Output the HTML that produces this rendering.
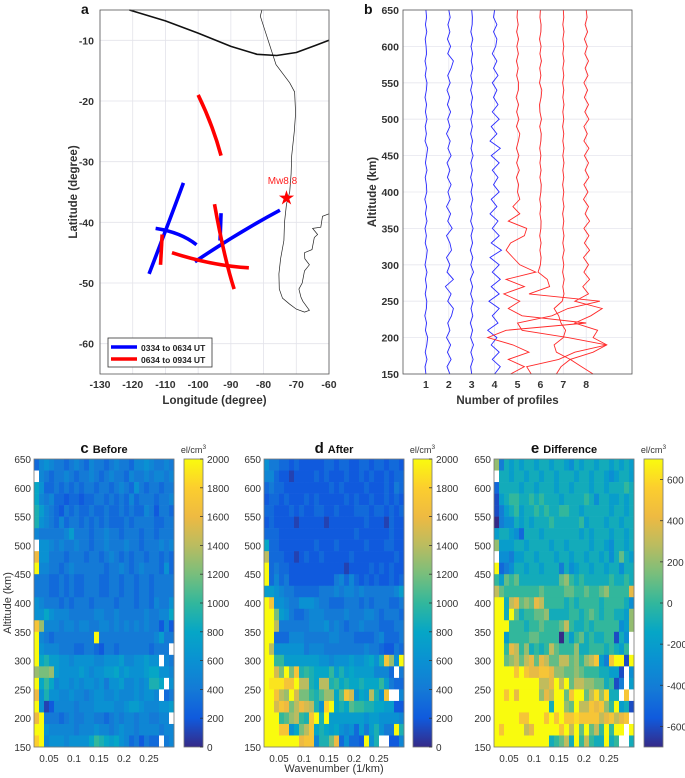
<!DOCTYPE html>
<html><head><meta charset="utf-8"><style>
html,body{margin:0;padding:0;background:#fff;}
svg{display:block;font-family:"Liberation Sans",Arial,sans-serif;}
</style></head><body>
<svg id="fig" width="685" height="778" viewBox="0 0 685 778">
<g id="pa"></g>
<g id="pb"></g>
<g id="pc"></g>
<g id="pd"></g>
<g id="pe"></g>
</svg>
<script>
// ---------- Panel a data ----------
const lonTicks=[-130,-120,-110,-100,-90,-80,-70,-60];
const latTicks=[-10,-20,-30,-40,-50,-60];
const blueTracks=[
 [[-115,-48.5],[-109,-40],[-104.5,-33.5]],
 [[-113,-41],[-106,-42],[-100.5,-43.7]],
 [[-93,-38.5],[-93.3,-43]],
 [[-101,-46.5],[-88,-42],[-75,-38]]
];
const redTracks=[
 [[-100,-19],[-96,-24],[-93,-29]],
 [[-111,-42],[-111.5,-47]],
 [[-95,-37],[-92,-45],[-89,-51]],
 [[-108,-45],[-96,-46.7],[-84.5,-47.5]]
];
const epicenter=[-73,-36];
const boundary=[[-121,-5],[-110,-6.8],[-100,-8.8],[-90,-11],[-82,-12.3],[-76,-12.5],[-70,-12],[-64,-10.8],[-60,-10]];
const coastW=[[-80.5,-5],[-81,-6],[-79.8,-8],[-78,-11],[-76.2,-14],[-72,-17],[-70.5,-18.5],[-70.2,-22],[-70.6,-25],[-71.4,-29],[-71.6,-32],[-72,-35],[-73,-37],[-73.6,-40],[-73.8,-43],[-74.8,-46],[-75.3,-48.5],[-75.2,-51],[-74.2,-52.5],[-72,-53.5],[-70,-54.3],[-67.5,-54.8],[-66,-54.5],[-68,-53],[-68.6,-52.3],[-69.2,-51],[-68.2,-50],[-67.5,-48],[-66,-47],[-67.4,-46],[-67.5,-45],[-65.2,-44.5],[-64.5,-42.5],[-63.5,-42],[-65,-41],[-62.5,-40.8],[-62,-39],[-60,-38.6]];
// ---------- Panel b data (deviation from profile number, 150→650 km) ----------
const profileNums=[1,2,3,4,5,6,7,8];
const prof1=[0,-.04,.05,-.03,.04,.08,-.02,.03,-.05,.02,.04,-.03,.03,-.02,.05,-.04,.02,.06,-.03,.02,-.04,.05,-.02,.03,-.05,.04,.02,-.03,.05,-.02,.03,.08,-.04,.02,-.03,.05,-.02,.03,-.04,.02,.05,-.03,.02,-.04,.03,.01,-.03,.04,-.02,.03,0];
const prof2=[.05,-.08,.1,-.06,.08,-.1,.05,-.05,.12,.2,-.05,.1,-.15,.2,-.08,.05,-.1,.12,.05,-.1,.15,-.05,.08,-.1,.06,-.04,.1,-.06,.05,-.08,.1,-.04,.06,-.1,.05,-.05,.08,-.06,.04,-.08,.06,-.05,.1,.2,-.05,.08,-.06,.05,-.04,.06,0];
const prof3=[0,-.05,.06,-.04,.08,-.05,.04,-.06,.05,-.03,.06,-.05,.04,-.06,.08,-.04,.05,-.06,.04,-.03,.06,-.05,.03,-.04,.05,-.03,.04,-.05,.03,-.04,.06,-.03,.04,-.05,.03,-.04,.05,-.03,.04,-.05,.03,-.04,.05,-.02,.04,-.03,.05,-.04,.02,.03,0];
const prof4=[0,.25,-.1,.2,-.15,.1,-.3,.15,-.1,.2,-.25,.2,-.15,.25,-.1,.2,-.2,.3,-.15,.2,-.1,.15,-.2,.1,-.15,.2,-.05,.15,-.1,.2,-.15,.25,-.2,.1,-.15,.2,-.1,.15,-.05,.1,-.1,.15,-.05,.1,-.1,.05,.1,-.05,.1,-.05,0];
const prof5=[-.3,.3,-.4,.5,-.2,-1.3,-.5,3.0,.2,-.4,.1,-.6,.3,-.5,.8,.1,-.2,-.5,-.3,.3,.4,-.4,.1,-.2,.1,0,.05,-.05,.08,-.04,.06,-.05,.04,.1,-.05,.06,-.04,.05,-.06,.04,.05,-.04,.03,-.05,.04,-.03,.05,-.04,.03,-.02,0];
const prof6=[-.4,-.6,.8,1.5,2.9,1.2,-.8,-1.0,.5,1.2,2.6,-.5,.4,.3,-.1,0,.03,-.02,.03,-.03,.02,.03,-.02,.02,-.03,.02,.04,-.02,.03,-.02,.02,-.03,.02,.04,-.03,.05,-.02,-.04,.03,.06,-.04,.02,-.03,.05,-.02,.03,-.04,.02,.03,-.02,0];
const prof7=[-.3,-.1,.3,-.3,-.4,0,.1,-.1,-.2,-.4,-.05,.03,-.02,.04,-.03,.02,-.03,.04,-.02,.03,-.02,.02,-.03,.03,-.02,.02,-.03,.02,-.02,.03,-.02,.03,-.02,.02,-.03,.02,-.02,.03,-.02,.02,-.03,.02,-.02,.03,-.02,.02,-.02,.03,-.02,.02,0];
const prof8=[.3,-.2,-.7,.3,.9,.3,.5,-.5,.2,.7,-.5,.1,-.15,.15,-.1,.1,-.12,.15,-.08,.12,-.1,.15,-.05,.1,-.12,.08,-.1,.12,-.05,.1,-.08,.12,-.1,.05,-.1,.12,-.06,.1,-.08,.06,-.1,.08,-.05,.1,-.06,.05,-.08,.06,-.05,.04,0];
const altTicks=[150,200,250,300,350,400,450,500,550,600,650];
// ---------- Heatmap data (hundreds of el/cm3, rows 650→150 km) ----------
const wavenumTicks=[0.05,0.1,0.15,0.2,0.25];
const beforeRows=[
[3,5,6,5,4,4,3,4,5,4,3,5,4,4,3,4,5,4,4,3,5,5,6,5,4,4,5,4],
[null,5,4,3,4,4,5,4,3,4,4,5,4,3,4,5,4,4,3,5,4,4,5,4,5,5,4,5],
[8,6,3,3,4,3,4,3,4,3,4,4,3,4,4,3,4,5,4,3,6,4,3,4,4,3,4,4],
[8,5,4,5,3,3,2,3,3,2,3,3,4,4,3,4,3,4,3,5,3,4,4,4,3,4,4,5],
[9,7,5,4,3,2,4,3,4,3,3,4,3,3,4,3,3,4,3,4,3,3,5,4,2,4,4,3],
[9,6,5,4,3,5,3,4,4,3,4,3,4,3,4,3,3,3,4,3,4,4,4,4,3,3,4,4],
[5,4,4,4,4,4,5,7,4,4,4,3,4,4,5,4,4,3,4,4,4,3,4,4,3,4,4,4],
[null,6,6,5,4,5,4,4,5,4,4,3,4,4,5,4,4,4,5,4,4,3,4,4,4,5,4,5],
[16,6,6,4,4,4,3,4,4,4,3,4,4,3,4,5,4,3,4,3,4,4,3,4,4,3,4,3],
[20,5,5,4,4,3,4,5,4,4,4,4,4,4,3,4,4,5,4,3,4,5,4,4,4,3,6,3],
[4,4,4,3,3,4,3,4,3,3,4,4,4,3,3,4,4,3,4,4,3,4,4,3,4,4,4,4],
[4,4,4,3,3,4,3,4,3,3,4,4,4,3,3,4,4,3,4,4,3,4,4,3,4,4,4,4],
[6,5,4,4,4,3,4,3,4,4,4,3,4,4,4,4,3,4,4,4,3,4,4,3,5,4,4,6],
[6,6,8,6,5,5,5,4,4,4,4,4,5,5,4,4,5,4,4,4,4,4,5,4,4,5,5,8],
[17,13,5,5,5,4,5,5,4,5,5,4,4,5,5,4,5,4,5,4,5,4,5,4,4,2,5,2],
[20,5,4,3,4,4,4,4,4,4,4,4,20,4,4,4,4,4,4,4,4,4,4,4,5,7,4,4],
[20,6,5,5,5,4,4,4,3,3,4,4,3,2,4,4,3,4,4,4,4,4,4,3,4,4,4,null],
[20,8,9,7,7,6,6,5,6,6,6,6,5,5,6,6,6,7,5,5,6,6,7,6,6,null,5,4],
[13,12,12,13,7,6,6,6,6,7,6,5,6,6,7,7,8,6,7,6,6,6,7,8,8,6,6,5],
[20,8,10,8,5,6,6,5,6,5,6,6,5,6,4,6,6,7,5,5,6,5,6,9,9,8,null,6],
[16,6,9,6,6,5,5,6,5,5,4,5,6,6,5,5,6,5,5,5,6,5,6,6,5,null,3,4],
[20,6,1,2,5,5,5,5,4,5,5,5,6,6,6,6,5,5,6,7,7,6,5,5,5,6,6,7],
[16,20,4,4,4,3,4,5,4,4,5,5,4,4,3,4,5,4,5,5,4,5,5,4,4,5,5,null],
[20,20,6,5,5,5,5,5,4,5,5,5,6,5,5,4,5,6,5,5,4,5,5,5,5,4,5,5],
[18,20,5,6,6,6,5,6,6,6,6,8,10,9,8,7,8,6,5,3,4,2,4,3,3,null,4,5]
];
const afterRows=[
[6,4,4,3,3,2,3,2,2,2,2,2,3,3,2,3,3,2,2,3,3,2,3,3,2,3,3,2],
[5,5,3,2,2,1,2,2,2,2,3,2,3,2,2,2,3,2,2,3,2,3,2,2,3,2,3,3],
[3,4,3,3,2,2,2,2,2,2,2,2,2,3,2,3,2,2,2,2,3,2,2,2,3,2,4,3],
[2,3,3,2,3,2,2,2,3,2,3,2,2,2,2,2,3,2,3,2,2,3,2,2,3,2,3,2],
[3,3,2,2,2,3,2,3,2,2,3,3,2,2,3,2,2,2,3,3,3,2,3,3,2,3,2,3],
[2,3,2,2,2,2,1,2,2,2,2,2,1,2,2,2,2,2,2,2,3,2,2,2,1,3,2,2],
[3,3,3,2,2,2,2,2,2,2,2,2,2,2,2,2,2,2,3,2,2,2,2,2,2,3,2,2],
[8,3,3,2,2,2,2,2,2,2,3,2,2,2,3,2,2,2,2,2,3,2,2,2,3,3,2,2],
[14,3,3,3,2,2,1,2,3,2,2,3,2,2,2,2,2,3,2,2,2,2,2,2,2,2,3,2],
[20,3,4,3,3,2,2,2,2,2,2,2,2,2,2,2,1,2,2,2,2,3,2,3,2,3,2,2],
[20,3,5,3,4,2,2,2,2,2,2,2,2,2,4,5,3,5,3,2,3,2,3,2,2,3,2,3],
[7,7,6,5,4,4,3,3,3,3,3,4,4,4,5,4,5,5,4,5,4,4,4,4,4,4,5,7],
[20,17,6,6,5,4,4,6,6,6,5,4,4,3,3,3,4,4,4,3,4,3,4,4,4,3,3,4],
[20,20,12,7,6,4,3,3,4,5,5,5,4,4,4,4,5,4,4,4,5,5,4,3,4,4,4,3],
[20,20,14,4,4,4,4,4,4,5,5,5,6,4,5,4,3,4,4,5,4,4,4,3,3,3,4,4],
[20,20,3,3,3,5,5,5,4,4,4,4,4,5,5,4,4,4,3,3,3,3,4,5,3,3,3,4],
[20,14,6,6,6,6,6,6,4,5,5,5,4,4,4,4,4,4,4,4,5,4,4,3,2,2,4,3],
[20,20,10,10,7,7,7,7,7,7,7,6,6,5,6,6,6,7,6,6,7,8,6,9,17,13,6,20],
[20,20,15,12,20,12,17,9,10,9,8,8,8,10,7,9,7,8,7,7,7,7,5,5,5,3,null,4],
[20,19,19,19,17,17,20,14,14,9,8,14,14,9,10,8,9,8,8,9,8,8,8,10,7,4,3,3],
[20,20,17,14,13,20,15,12,12,10,9,11,13,13,8,11,17,15,6,8,7,14,9,6,17,null,null,5],
[20,20,15,17,16,12,14,16,15,14,9,6,18,20,8,9,8,11,10,10,9,9,8,8,7,7,2,2],
[20,20,20,10,11,13,14,10,9,17,20,9,20,7,7,7,7,7,7,7,6,7,7,6,6,6,6,5],
[20,20,20,17,17,6,8,12,14,17,8,9,8,7,8,6,5,6,3,7,4,7,9,6,4,4,20,9],
[20,20,20,20,20,20,20,16,17,17,5,9,9,12,16,3,6,3,3,2,20,6,9,null,null,2,2,5]
];
const diffRows=[
[2,-4,-1,-2,-1,-2,-1,-1,-2,-1,-1,-2,-1,-1,-2,-3,-1,-2,-1,-1,-2,-1,-1,-2,-1,-2,-1,-2],
[null,-1,-1,-2,-1,-1,-2,-1,-1,-2,-1,-1,-2,-1,-1,-1,-2,-1,-1,-2,-1,-1,-2,-3,-2,-1,-1,-2],
[-5,-1,-1,-1,-1,-2,-1,-1,-2,-1,-1,-1,-2,-1,-1,-2,-1,-1,-1,-2,-1,-1,-2,-1,-1,-1,0,-1],
[-6,-2,-1,0,0,-1,-1,0,-1,0,-1,-1,-1,-2,-1,-1,-1,-1,0,-1,-3,-1,-1,-2,-2,-1,-2,-1],
[-6,-4,-2,-1,0,-2,-1,-1,0,-1,0,-1,-1,0,0,-1,-1,-2,-1,-1,-1,-1,-1,-2,-1,-1,-2,-1],
[-7,-4,-3,-3,-1,-2,-1,-2,-1,-1,-1,0,-1,-1,-1,-1,-1,0,-2,-1,-1,-1,-2,-1,-1,-2,-1,-1],
[-2,-1,-1,-2,-3,-5,-1,-1,-1,-2,-1,-1,-1,-1,-1,-1,-1,-2,-1,-2,-1,-1,-1,-2,-1,-1,-2,-1],
[2,-2,-2,-2,-1,-1,-2,-1,-1,-1,-1,-2,-1,-1,-2,-1,-1,-1,-1,-2,-1,-1,-2,-3,-1,-1,-2,-1],
[null,-3,-3,-4,-2,-2,-1,-1,-2,-1,-1,-1,-2,-1,-1,-2,-1,-1,-2,-1,-1,-2,-1,-3,-1,1,-1,-2],
[7,-5,-4,-3,-1,-1,-2,-1,-1,-2,-1,-1,-1,-4,-1,-3,-2,-1,-1,-2,-1,-1,-2,-1,-1,-3,-1,-1],
[0,-2,1,0,1,-1,-1,-1,-1,-1,-1,-1,-1,1,2,0,-1,0,-1,-1,-1,-1,-1,0,-1,-1,0,-1],
[3,1,0,0,0,0,0,0,0,1,0,0,0,0,1,1,0,0,1,0,0,1,2,0,0,0,0,4],
[7,7,-1,3,4,1,2,1,4,3,0,0,0,0,-1,0,-1,0,0,0,0,-1,0,0,0,0,-1,-3],
[7,7,-1,7,1,-1,0,0,1,1,2,-1,-1,-1,-1,0,0,-1,0,1,0,-1,0,0,-1,-1,-2,2],
[7,7,7,0,0,0,-1,0,0,1,0,0,0,1,3,0,-1,-1,0,-1,0,0,0,0,0,-3,-2,2],
[7,7,-2,0,0,0,0,1,1,0,0,0,0,-7,0,-2,0,1,-1,0,-1,-1,0,0,-6,-1,-3,null],
[7,7,0,4,3,0,2,-1,0,-1,0,3,1,0,0,0,2,-1,-1,0,0,0,-1,0,-1,-2,0,null],
[7,7,1,2,3,1,3,4,1,4,3,1,1,3,3,1,2,0,2,3,5,-2,-4,5,7,7,-6,7],
[7,7,7,7,5,7,5,4,4,5,5,4,2,2,1,1,2,1,0,0,0,-1,-1,-2,-2,-6,null,-3],
[7,7,7,7,7,7,7,7,7,3,3,4,7,3,7,1,3,3,2,2,1,1,-1,0,-6,-4,null,-2],
[7,7,5,7,4,7,7,7,7,2,4,3,7,7,1,5,7,7,1,3,6,2,6,-1,-1,null,5,null],
[7,7,7,7,7,7,7,7,7,7,7,-1,7,7,2,1,7,3,3,5,4,5,2,0,7,-2,-1,-6],
[7,7,7,7,7,5,5,7,7,7,5,7,5,7,5,5,6,5,5,5,5,3,4,5,3,4,5,null],
[7,5,7,7,7,7,3,4,7,7,7,7,7,5,7,3,7,1,7,1,3,0,7,0,7,7,null,7],
[7,7,7,7,7,7,7,7,7,7,7,-1,0,1,3,-1,7,0,3,0,-1,-1,7,-1,0,null,null,-1]
];
const cbTicksAbs=[0,200,400,600,800,1000,1200,1400,1600,1800,2000];
const cbTicksDiff=[-600,-400,-200,0,200,400,600];

// ---------- helpers ----------
const NS='http://www.w3.org/2000/svg';
function mk(parent,tag,attrs,text){const e=document.createElementNS(NS,tag);for(const k in attrs)e.setAttribute(k,attrs[k]);if(text!==undefined)e.textContent=text;parent.appendChild(e);return e;}
const parulaStops=[[0,[53,42,135]],[0.1,[16,90,221]],[0.2,[20,122,214]],[0.3,[10,145,210]],[0.4,[6,166,198]],[0.5,[50,183,156]],[0.6,[120,190,124]],[0.7,[186,188,96]],[0.8,[238,186,66]],[0.9,[252,206,46]],[1,[249,251,14]]];
function parula(t){t=Math.max(0,Math.min(1,t));for(let i=1;i<parulaStops.length;i++){if(t<=parulaStops[i][0]){const a=parulaStops[i-1],b=parulaStops[i];const f=(t-a[0])/(b[0]-a[0]);const c=a[1].map((v,j)=>Math.round(v+(b[1][j]-v)*f));return `rgb(${c[0]},${c[1]},${c[2]})`;}}return 'rgb(249,251,14)';}

// ---------- Panel a ----------
(function(){
const g=document.getElementById('pa');
const X0=100,X1=329,Y0=10,Y1=374;
const lx=lon=>X0+(lon+130)*(X1-X0)/70;
const ly=lat=>Y0+(-5-lat)*(Y1-Y0)/60;
mk(g,'rect',{x:X0,y:Y0,width:X1-X0,height:Y1-Y0,fill:'#fff',stroke:'none'});
lonTicks.forEach(t=>{const l=mk(g,'line',{x1:lx(t),x2:lx(t),y1:Y0,y2:Y1,stroke:'#e3e3ea','stroke-width':0.8});});
latTicks.forEach(t=>{const l=mk(g,'line',{x1:X0,x2:X1,y1:ly(t),y2:ly(t),stroke:'#e3e3ea','stroke-width':0.8});});
const pts=a=>a.map(p=>lx(p[0]).toFixed(1)+','+ly(p[1]).toFixed(1)).join(' ');
const cw=mk(g,'polyline',{points:pts(coastW),fill:'none',stroke:'#222','stroke-width':0.7});

const bd=mk(g,'polyline',{points:pts(boundary),fill:'none',stroke:'#111','stroke-width':1.6,'stroke-linejoin':'round'});

function curve(tr){if(tr.length===2)return `M${lx(tr[0][0])},${ly(tr[0][1])} L${lx(tr[1][0])},${ly(tr[1][1])}`;
 const p0=[lx(tr[0][0]),ly(tr[0][1])],p1=[lx(tr[1][0]),ly(tr[1][1])],p2=[lx(tr[2][0]),ly(tr[2][1])];
 const c=[2*p1[0]-(p0[0]+p2[0])/2,2*p1[1]-(p0[1]+p2[1])/2];return `M${p0} Q${c} ${p2}`;}
blueTracks.forEach(tr=>{const p=mk(g,'path',{d:curve(tr),fill:'none',stroke:'#0000ff','stroke-width':3.6});});
redTracks.forEach(tr=>{const p=mk(g,'path',{d:curve(tr),fill:'none',stroke:'#ff0000','stroke-width':3.6});});
const sx=lx(epicenter[0]),sy=ly(epicenter[1]);let sp='';for(let i=0;i<10;i++){const r=i%2?3:8;const a=-Math.PI/2+i*Math.PI/5;sp+=(sx+r*Math.cos(a)).toFixed(1)+','+(sy+r*Math.sin(a)).toFixed(1)+' ';}
const st=mk(g,'polygon',{points:sp,fill:'#ff0000'});
const sl=mk(g,'text',{x:sx-4,y:sy-14,'font-size':10,fill:'#ff2020','text-anchor':'middle'},'Mw8.8');
mk(g,'rect',{x:X0,y:Y0,width:X1-X0,height:Y1-Y0,fill:'none',stroke:'#555','stroke-width':0.8});
lonTicks.forEach(t=>{const e=mk(g,'text',{x:lx(t),y:Y1+14,'font-size':10.5,'font-weight':'bold',fill:'#333','text-anchor':'middle'},String(t));});
latTicks.forEach(t=>{const e=mk(g,'text',{x:X0-6,y:ly(t)+4,'font-size':10.5,'font-weight':'bold',fill:'#333','text-anchor':'end'},String(t));});
const xt=mk(g,'text',{x:(X0+X1)/2,y:404,'font-size':11.5,'font-weight':'bold',fill:'#333','text-anchor':'middle'},'Longitude (degree)');
const yt=mk(g,'text',{x:0,y:0,'font-size':11.5,'font-weight':'bold',fill:'#333','text-anchor':'middle',transform:`translate(77,${(Y0+Y1)/2}) rotate(-90)`},'Latitude (degree)');
const pl=mk(g,'text',{x:81,y:14,'font-size':14,'font-weight':'bold',fill:'#111'},'a');
const lg=mk(g,'g',{});
mk(lg,'rect',{x:108,y:338,width:104,height:29,fill:'#fff',stroke:'#333','stroke-width':0.8});
mk(lg,'line',{x1:111,x2:137,y1:347,y2:347,stroke:'#0000ff','stroke-width':3.6});
mk(lg,'line',{x1:111,x2:137,y1:359,y2:359,stroke:'#ff0000','stroke-width':3.6});
const l1=mk(lg,'text',{x:141,y:351,'font-size':8.5,'font-weight':'bold',fill:'#222'},'0334 to 0634 UT');
const l2=mk(lg,'text',{x:141,y:363,'font-size':8.5,'font-weight':'bold',fill:'#222'},'0634 to 0934 UT');
})();

// ---------- Panel b ----------
(function(){
const g=document.getElementById('pb');
const X0=403,X1=632,Y0=10,Y1=374;
const px=v=>X0+v*(X1-X0)/10;
const py=a=>Y1-(a-150)*(Y1-Y0)/500;
mk(g,'rect',{x:X0,y:Y0,width:X1-X0,height:Y1-Y0,fill:'#fff'});
profileNums.forEach(t=>{const l=mk(g,'line',{x1:px(t),x2:px(t),y1:Y0,y2:Y1,stroke:'#e6e6ee','stroke-width':0.8});});
altTicks.forEach(t=>{const l=mk(g,'line',{x1:X0,x2:X1,y1:py(t),y2:py(t),stroke:'#e6e6ee','stroke-width':0.8});});
const profs=[prof1,prof2,prof3,prof4,prof5,prof6,prof7,prof8];
profs.forEach((pr,i)=>{const n=pr.length;const pts=pr.map((d,j)=>px(profileNums[i]+d).toFixed(1)+','+py(150+j*500/(n-1)).toFixed(1)).join(' ');
 const l=mk(g,'polyline',{points:pts,fill:'none',stroke:i<4?'#2a2aff':'#ff2a2a','stroke-width':0.9});
 });
mk(g,'rect',{x:X0,y:Y0,width:X1-X0,height:Y1-Y0,fill:'none',stroke:'#555','stroke-width':0.8});
profileNums.forEach(t=>{const e=mk(g,'text',{x:px(t),y:Y1+14,'font-size':10.5,'font-weight':'bold',fill:'#333','text-anchor':'middle'},String(t));});
altTicks.forEach(t=>{const e=mk(g,'text',{x:X0-4,y:py(t)+4,'font-size':10.5,'font-weight':'bold',fill:'#333','text-anchor':'end'},String(t));});
const xt=mk(g,'text',{x:(X0+X1)/2-10,y:404,'font-size':11.5,'font-weight':'bold',fill:'#333','text-anchor':'middle'},'Number of profiles');
const yt=mk(g,'text',{x:0,y:0,'font-size':11.5,'font-weight':'bold',fill:'#333','text-anchor':'middle',transform:`translate(376,${(Y0+Y1)/2}) rotate(-90)`},'Altitude (km)');
const pl=mk(g,'text',{x:364,y:14,'font-size':14,'font-weight':'bold',fill:'#111'},'b');
})();

// ---------- Heatmaps ----------
function heatmap(gid,rows,X0,cbX,vmin,vmax,ticks,letter,title){
const g=document.getElementById(gid);
const Y0=459,Y1=747,W=140,CBW=19;
const kx=w=>X0+(w-0.02)*W/0.28;
const ay=a=>Y1-(a-150)*(Y1-Y0)/500;
const nr=rows.length;
rows.forEach((row,ri)=>{const nc=row.length;row.forEach((v,ci)=>{
 const x=kx(0.02+ci*0.28/nc),x2=kx(0.02+(ci+1)*0.28/nc);
 const aTop=650-ri*500/nr,aBot=650-(ri+1)*500/nr;
 const r=mk(g,'rect',{x:x.toFixed(2),y:ay(aTop).toFixed(2),width:(x2-x+0.3).toFixed(2),height:(ay(aBot)-ay(aTop)+0.3).toFixed(2),fill:v===null?'#ffffff':parula((v*100-vmin)/(vmax-vmin))});
 
 
});});
mk(g,'rect',{x:X0,y:Y0,width:W,height:Y1-Y0,fill:'none',stroke:'#777','stroke-width':0.8});
altTicks.forEach(t=>{const e=mk(g,'text',{x:X0-3,y:ay(t)+4,'font-size':10,fill:'#333','text-anchor':'end'},String(t));});
wavenumTicks.forEach(t=>{const e=mk(g,'text',{x:kx(t),y:Y1+15,'font-size':10,fill:'#333','text-anchor':'middle'},String(t));});
const tt=mk(g,'text',{x:X0+W/2,y:Y0-6,'font-size':11,'font-weight':'bold',fill:'#111','text-anchor':'middle'});

mk(tt,'tspan',{'font-size':15},letter);mk(tt,'tspan',{dx:4},title);
const grad=mk(g,'defs',{});const lg=mk(grad,'linearGradient',{id:'grad'+gid,x1:0,y1:1,x2:0,y2:0});
for(let i=0;i<=20;i++)mk(lg,'stop',{offset:(i/20),'stop-color':parula(i/20)});
const cb=mk(g,'rect',{x:cbX,y:Y0,width:CBW,height:Y1-Y0,fill:`url(#grad${gid})`,stroke:'#777','stroke-width':0.8});

const cy=v=>Y1-(v-vmin)*(Y1-Y0)/(vmax-vmin);
ticks.forEach(t=>{mk(g,'line',{x1:cbX+CBW-3,x2:cbX+CBW,y1:cy(t),y2:cy(t),stroke:'#333','stroke-width':0.8});
 const e=mk(g,'text',{x:cbX+CBW+4,y:cy(t)+4,'font-size':10,fill:'#333'},String(t));});
const u=mk(g,'text',{x:cbX+CBW/2,y:Y0-6,'font-size':9,fill:'#333','text-anchor':'middle'});

mk(u,'tspan',{},'el/cm');mk(u,'tspan',{dy:-4,'font-size':6.5},'3');
}
heatmap('pc',beforeRows,34,184,0,2000,cbTicksAbs,'c','Before');
heatmap('pd',afterRows,264,413,0,2000,cbTicksAbs,'d','After');
heatmap('pe',diffRows,494,644,-700,700,cbTicksDiff,'e','Difference');
(function(){const g=document.getElementById('pd');
const xt=mk(g,'text',{x:334,y:772,'font-size':11,fill:'#333','text-anchor':'middle'},'Wavenumber (1/km)');
const g2=document.getElementById('pc');
const yt=mk(g2,'text',{x:0,y:0,'font-size':11,fill:'#333','text-anchor':'middle',transform:'translate(11,603) rotate(-90)'},'Altitude (km)');})();
</script>
</body></html>
